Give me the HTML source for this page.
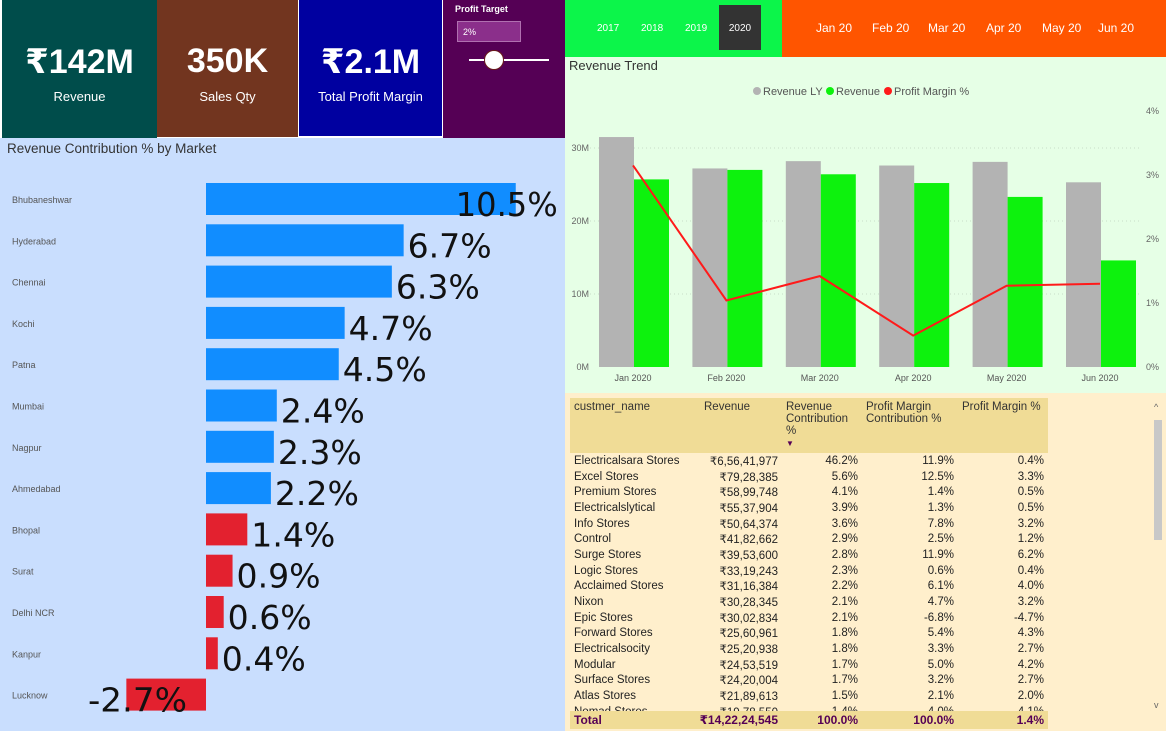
<!DOCTYPE html>
<html><head><meta charset="utf-8"><style>
*{margin:0;padding:0;box-sizing:border-box}
body{width:1166px;height:731px;position:relative;overflow:hidden;background:#fff;font-family:"Liberation Sans","DejaVu Sans",sans-serif}
.abs{position:absolute}
.card{position:absolute;top:0;color:#fff;text-align:center}
.card .v{font-size:34px;position:absolute;left:0;right:0;top:42px;font-family:"Liberation Sans","DejaVu Sans",sans-serif;font-weight:bold}
.card .l{font-size:13px;position:absolute;left:0;right:0;top:89px}
table{border-collapse:collapse;font-size:11.5px;color:#222}
td{height:15.7px;padding:0 4px;white-space:nowrap}
td.r{text-align:right}
</style></head><body>
<div class="card" style="left:2px;width:155px;height:138px;background:#004d4b"><div class="v">₹142M</div><div class="l">Revenue</div></div>
<div class="card" style="left:157px;width:141px;height:137px;background:#72351f"><div class="v">350K</div><div class="l">Sales Qty</div></div>
<div class="card" style="left:299px;width:143px;height:136px;background:#0000a0"><div class="v">₹2.1M</div><div class="l">Total Profit Margin</div></div>
<div class="abs" style="left:443px;top:0;width:122px;height:138px;background:#550055;color:#fff">
 <div class="abs" style="left:12px;top:4px;font-size:9px;font-weight:bold">Profit Target</div>
 <div class="abs" style="left:14px;top:21px;width:64px;height:21px;background:#8b2f8b;border:1px solid #b070b0;font-size:9px;padding:5px 5px">2%</div>
 <div class="abs" style="left:26px;top:59px;width:80px;height:2px;background:#fff"></div>
 <div class="abs" style="left:41px;top:50px;width:20px;height:20px;border-radius:50%;background:#fff;border:1px solid #6a1a1a"></div>
</div>
<div class="abs" style="left:565px;top:0;width:217px;height:57px;background:#0cf54a;color:#fff;font-size:10px">
 <span class="abs" style="left:32px;top:23px">2017</span>
 <span class="abs" style="left:76px;top:23px">2018</span>
 <span class="abs" style="left:120px;top:23px">2019</span>
 <span class="abs" style="left:154px;top:5px;width:42px;height:45px;background:#333;padding-top:18px;text-align:center">2020</span>
</div>
<div class="abs" style="left:782px;top:0;width:384px;height:57px;background:#ff5500;color:#fff;font-size:12px">
 <span class="abs" style="left:34px;top:21px">Jan 20</span>
 <span class="abs" style="left:90px;top:21px">Feb 20</span>
 <span class="abs" style="left:146px;top:21px">Mar 20</span>
 <span class="abs" style="left:204px;top:21px">Apr 20</span>
 <span class="abs" style="left:260px;top:21px">May 20</span>
 <span class="abs" style="left:316px;top:21px">Jun 20</span>
</div>
<div class="abs" style="left:0;top:138px;width:565px;height:593px;background:#c9defe"></div>
<div class="abs" style="left:7px;top:141px;font-size:13.5px;color:#333">Revenue Contribution % by Market</div>
<svg class="abs" id="mk" style="left:0;top:0" width="565" height="731"></svg>
<div class="abs" style="left:565px;top:57px;width:601px;height:336px;background:#e6ffe6"></div>
<div class="abs" style="left:569px;top:58px;font-size:13px;color:#333">Revenue Trend</div>
<svg class="abs" id="tr" style="left:0;top:0" width="1166" height="393"></svg>
<div class="abs" style="left:565px;top:393px;width:601px;height:338px;background:#ffefcc"></div>
<div class="abs" style="left:1154px;top:420px;width:8px;height:120px;background:#c8c8c8"></div>
<div class="abs" style="left:1154px;top:402px;font-size:9px;color:#666">^</div>
<div class="abs" style="left:1154px;top:700px;font-size:9px;color:#666">v</div>
<div class="abs" style="left:570px;top:398px;width:478px;height:333px;overflow:hidden">
<table id="tb" style="width:478px">
<tr style="background:#f0dc96;height:55px;vertical-align:top;color:#333"><td style="width:130px;padding-top:3px">custmer_name</td><td style="width:82px;padding-top:3px">Revenue</td><td style="width:80px;padding-top:3px;white-space:normal">Revenue Contribution %<br><span style="font-size:8px;color:#550055">▼</span></td><td style="width:96px;padding-top:3px;white-space:normal">Profit Margin Contribution %</td><td style="width:90px;padding-top:3px">Profit Margin %</td></tr>
</table></div>
<div class="abs" style="left:570px;top:711px;width:478px;height:18px;background:#f0dc96;font-size:12px;font-weight:bold;color:#550055">
 <span class="abs" style="left:4px;top:2px">Total</span>
 <span class="abs" style="right:270px;top:2px">₹14,22,24,545</span>
 <span class="abs" style="right:190px;top:2px">100.0%</span>
 <span class="abs" style="right:94px;top:2px">100.0%</span>
 <span class="abs" style="right:4px;top:2px">1.4%</span>
</div>
<script>
const NS='http://www.w3.org/2000/svg';
function mk(p,t,a,txt){const e=document.createElementNS(NS,t);for(const k in a)e.setAttribute(k,a[k]);if(txt!==undefined)e.textContent=txt;p.appendChild(e);return e;}
// Market chart data
const markets=['Bhubaneshwar','Hyderabad','Chennai','Kochi','Patna','Mumbai','Nagpur','Ahmedabad','Bhopal','Surat','Delhi NCR','Kanpur','Lucknow'];
const contrib=[10.5,6.7,6.3,4.7,4.5,2.4,2.3,2.2,1.4,0.9,0.6,0.4,-2.7];
const target=2;
const ms=document.getElementById('mk');
const x0=206,pxPer=29.5,yTop=199,step=41.3;
const xs=v=>x0+v*pxPer;
markets.forEach((m,i)=>{
 const cy=yTop+i*step,v=contrib[i];
 const t=mk(ms,'text',{x:12,y:cy+4,'font-size':9,fill:'#555'},m);
 
 
 const r=mk(ms,'rect',{x:Math.min(xs(0),xs(v)),y:cy-16,width:Math.abs(xs(v)-xs(0)),height:32,fill:v>=target?'#118dff':'#e3212f'});
 
 
 const lb=mk(ms,'text',{x:v>=10?xs(v)-60:(v>=0?xs(v)+4:88),y:cy+17,'font-size':33,fill:'#111','font-family':'DejaVu Sans, sans-serif','textLength':v>=10?102:(v<0?99:84),'lengthAdjust':'spacingAndGlyphs'},v.toFixed(1)+'%');
 
 
});
// Trend chart data
const months=['Jan 2020','Feb 2020','Mar 2020','Apr 2020','May 2020','Jun 2020'];
const revLY=[31.5,27.2,28.2,27.6,28.1,25.3];
const rev=[25.7,27.0,26.4,25.2,23.3,14.6];
const margin=[3.15,1.04,1.42,0.49,1.27,1.30];
const leftTicks=[0,10,20,30];
const rightTicks=[0,1,2,3,4];
const ts=document.getElementById('tr');
const yL=v=>367-v*7.3, yR=v=>367-v*64, bx=i=>633+i*93.4;
leftTicks.forEach(v=>{
 if(v>0){const g=mk(ts,'line',{x1:590,x2:1140,y1:yL(v),y2:yL(v),stroke:'#c8dcc8','stroke-dasharray':'1,3'});}
 const t=mk(ts,'text',{x:589,y:yL(v)+3,'font-size':9,fill:'#666','text-anchor':'end'},v+'M');
 
 
});
rightTicks.forEach(v=>{
 const t=mk(ts,'text',{x:1146,y:yR(v)+3,'font-size':9,fill:'#666'},v+'%');
 
 
});
months.forEach((m,i)=>{
 const a=mk(ts,'rect',{x:bx(i)-34,y:yL(revLY[i]),width:35,height:yL(0)-yL(revLY[i]),fill:'#b3b3b3'});
 
 
 const b=mk(ts,'rect',{x:bx(i)+1,y:yL(rev[i]),width:35,height:yL(0)-yL(rev[i]),fill:'#0df20d'});
 
 
 const t=mk(ts,'text',{x:bx(i),y:381,'font-size':9,fill:'#555','text-anchor':'middle'},m);
 
 
});
const ln=mk(ts,'polyline',{points:margin.map((v,i)=>bx(i)+','+yR(v)).join(' '),fill:'none',stroke:'#ff1a1a','stroke-width':2});


const leg=[['Revenue LY','#b3b3b3',752],['Revenue','#0df20d',825],['Profit Margin %','#ff1a1a',883]];
leg.forEach(([n,c,x])=>{
 const cc=mk(ts,'circle',{cx:x+5,cy:91,r:4,fill:c});
 
 
 const t=mk(ts,'text',{x:x+11,y:95,'font-size':11,fill:'#555'},n);
 
 
});
// Table data
const custNames=['Electricalsara Stores','Excel Stores','Premium Stores','Electricalslytical','Info Stores','Control','Surge Stores','Logic Stores','Acclaimed Stores','Nixon','Epic Stores','Forward Stores','Electricalsocity','Modular','Surface Stores','Atlas Stores','Nomad Stores'];
const custRev=['₹6,56,41,977','₹79,28,385','₹58,99,748','₹55,37,904','₹50,64,374','₹41,82,662','₹39,53,600','₹33,19,243','₹31,16,384','₹30,28,345','₹30,02,834','₹25,60,961','₹25,20,938','₹24,53,519','₹24,20,004','₹21,89,613','₹19,78,550'];
const custContrib=['46.2%','5.6%','4.1%','3.9%','3.6%','2.9%','2.8%','2.3%','2.2%','2.1%','2.1%','1.8%','1.8%','1.7%','1.7%','1.5%','1.4%'];
const custPMC=['11.9%','12.5%','1.4%','1.3%','7.8%','2.5%','11.9%','0.6%','6.1%','4.7%','-6.8%','5.4%','3.3%','5.0%','3.2%','2.1%','4.0%'];
const custPM=['0.4%','3.3%','0.5%','0.5%','3.2%','1.2%','6.2%','0.4%','4.0%','3.2%','-4.7%','4.3%','2.7%','4.2%','2.7%','2.0%','4.1%'];
const tb=document.getElementById('tb');
custNames.forEach((n,i)=>{
 const tr=document.createElement('tr');
 
 
 [n,custRev[i],custContrib[i],custPMC[i],custPM[i]].forEach((v,j)=>{const td=document.createElement('td');td.textContent=v;if(j)td.className='r';tr.appendChild(td);});
 tb.appendChild(tr);
});
</script>
</body></html>
